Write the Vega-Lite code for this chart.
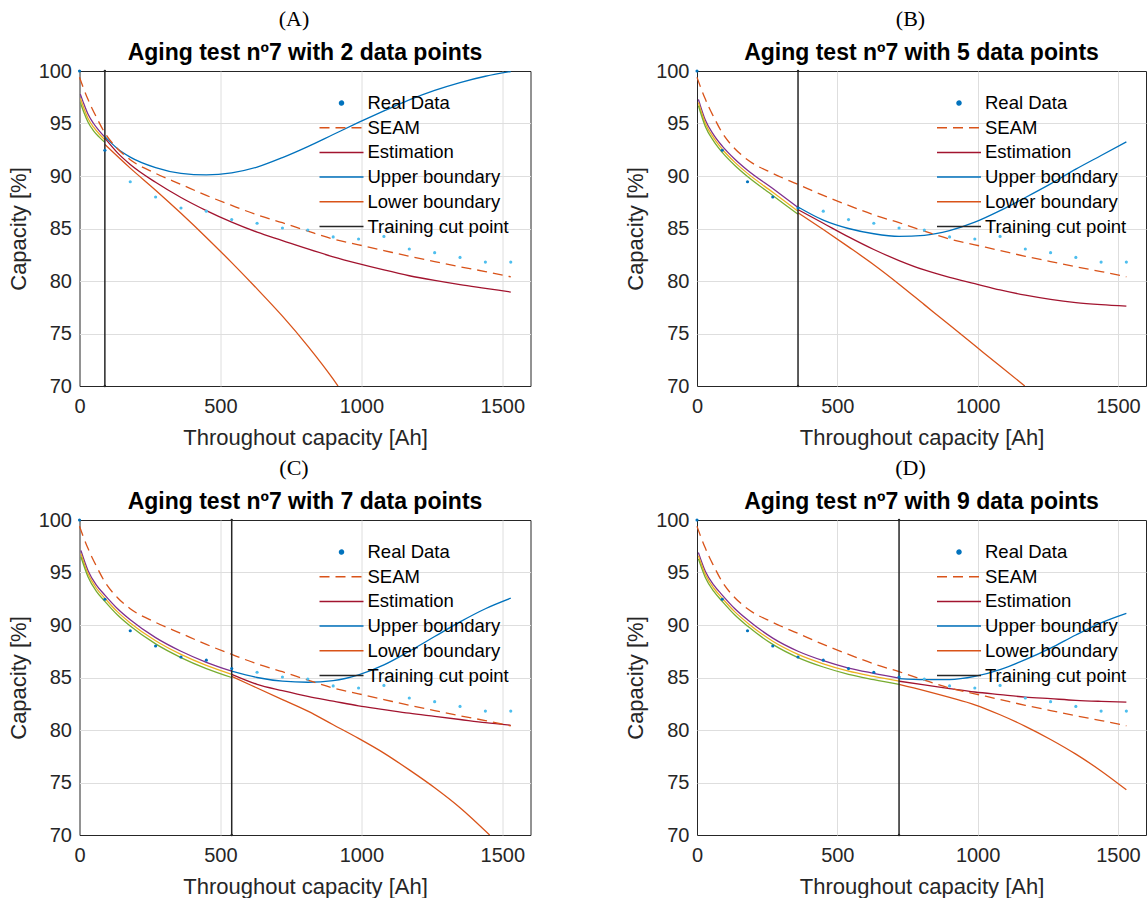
{
"$schema": "https://vega.github.io/schema/vega-lite/v6.json",
"padding": {"left": 6.5, "top": 7, "right": 0, "bottom": 0},
"datasets": {
"real": [
{"x":0,"y":100.0},{"x":90,"y":92.45},{"x":180,"y":89.45},{"x":270,"y":88.0},{"x":360,"y":86.95},{"x":450,"y":86.65},{"x":540,"y":85.85},{"x":630,"y":85.5},{"x":720,"y":85.05},{"x":810,"y":84.85},{"x":900,"y":84.2},{"x":990,"y":84.0},{"x":1080,"y":84.25},{"x":1170,"y":83.05},{"x":1260,"y":82.7},{"x":1350,"y":82.25},{"x":1440,"y":81.8},{"x":1530,"y":81.8}
],
"seam": [
{"x":0,"y":99.4},{"x":15,"y":98.3},{"x":30,"y":97.3},{"x":45,"y":96.4},{"x":60,"y":95.6},{"x":90,"y":94.1},{"x":135,"y":92.6},{"x":180,"y":91.55},{"x":270,"y":90.25},{"x":360,"y":89.2},{"x":450,"y":88.15},{"x":540,"y":87.2},{"x":630,"y":86.3},{"x":720,"y":85.55},{"x":810,"y":84.75},{"x":900,"y":84.0},{"x":990,"y":83.45},{"x":1080,"y":82.9},{"x":1170,"y":82.35},{"x":1260,"y":81.85},{"x":1350,"y":81.35},{"x":1440,"y":80.9},{"x":1530,"y":80.4}
],
"cuts": [
{"panel":"A","x":90,"y":70},{"panel":"A","x":90,"y":100},
{"panel":"B","x":360,"y":70},{"panel":"B","x":360,"y":100},
{"panel":"C","x":540,"y":70},{"panel":"C","x":540,"y":100},
{"panel":"D","x":720,"y":70},{"panel":"D","x":720,"y":100}
],
"curves": [
{"panel":"A","series":"Fit 1","x":3,"y":97.8},{"panel":"A","series":"Fit 1","x":15,"y":96.9},{"panel":"A","series":"Fit 1","x":30,"y":95.9},{"panel":"A","series":"Fit 1","x":50,"y":95.0},{"panel":"A","series":"Fit 1","x":70,"y":94.3},{"panel":"A","series":"Fit 1","x":90,"y":93.7},
{"panel":"A","series":"Fit 2","x":3,"y":97.4},{"panel":"A","series":"Fit 2","x":15,"y":96.5},{"panel":"A","series":"Fit 2","x":30,"y":95.5},{"panel":"A","series":"Fit 2","x":50,"y":94.65},{"panel":"A","series":"Fit 2","x":70,"y":94.0},{"panel":"A","series":"Fit 2","x":90,"y":93.45},
{"panel":"A","series":"Fit 3","x":3,"y":97.0},{"panel":"A","series":"Fit 3","x":15,"y":96.1},{"panel":"A","series":"Fit 3","x":30,"y":95.15},{"panel":"A","series":"Fit 3","x":50,"y":94.3},{"panel":"A","series":"Fit 3","x":70,"y":93.7},{"panel":"A","series":"Fit 3","x":90,"y":93.2},
{"panel":"A","series":"Estimation","x":90,"y":93.6},{"panel":"A","series":"Estimation","x":135,"y":92.2},{"panel":"A","series":"Estimation","x":180,"y":91.1},{"panel":"A","series":"Estimation","x":270,"y":89.4},{"panel":"A","series":"Estimation","x":360,"y":87.95},{"panel":"A","series":"Estimation","x":450,"y":86.7},{"panel":"A","series":"Estimation","x":540,"y":85.6},{"panel":"A","series":"Estimation","x":630,"y":84.65},{"panel":"A","series":"Estimation","x":720,"y":83.85},{"panel":"A","series":"Estimation","x":810,"y":83.05},{"panel":"A","series":"Estimation","x":900,"y":82.3},{"panel":"A","series":"Estimation","x":990,"y":81.65},{"panel":"A","series":"Estimation","x":1080,"y":81.05},{"panel":"A","series":"Estimation","x":1170,"y":80.5},{"panel":"A","series":"Estimation","x":1260,"y":80.05},{"panel":"A","series":"Estimation","x":1350,"y":79.65},{"panel":"A","series":"Estimation","x":1440,"y":79.3},{"panel":"A","series":"Estimation","x":1530,"y":78.95},
{"panel":"A","series":"Upper boundary","x":90,"y":93.75},{"panel":"A","series":"Upper boundary","x":135,"y":92.6},{"panel":"A","series":"Upper boundary","x":180,"y":91.8},{"panel":"A","series":"Upper boundary","x":270,"y":90.8},{"panel":"A","series":"Upper boundary","x":360,"y":90.25},{"panel":"A","series":"Upper boundary","x":450,"y":90.1},{"panel":"A","series":"Upper boundary","x":540,"y":90.3},{"panel":"A","series":"Upper boundary","x":630,"y":90.85},{"panel":"A","series":"Upper boundary","x":720,"y":91.75},{"panel":"A","series":"Upper boundary","x":810,"y":92.8},{"panel":"A","series":"Upper boundary","x":900,"y":93.95},{"panel":"A","series":"Upper boundary","x":990,"y":95.1},{"panel":"A","series":"Upper boundary","x":1080,"y":96.2},{"panel":"A","series":"Upper boundary","x":1170,"y":97.25},{"panel":"A","series":"Upper boundary","x":1260,"y":98.15},{"panel":"A","series":"Upper boundary","x":1350,"y":98.9},{"panel":"A","series":"Upper boundary","x":1440,"y":99.5},{"panel":"A","series":"Upper boundary","x":1530,"y":99.95},
{"panel":"A","series":"Lower boundary","x":90,"y":93.0},{"panel":"A","series":"Lower boundary","x":180,"y":90.75},{"panel":"A","series":"Lower boundary","x":270,"y":88.65},{"panel":"A","series":"Lower boundary","x":360,"y":86.45},{"panel":"A","series":"Lower boundary","x":450,"y":84.15},{"panel":"A","series":"Lower boundary","x":540,"y":81.75},{"panel":"A","series":"Lower boundary","x":630,"y":79.25},{"panel":"A","series":"Lower boundary","x":720,"y":76.65},{"panel":"A","series":"Lower boundary","x":810,"y":73.8},{"panel":"A","series":"Lower boundary","x":900,"y":70.65},{"panel":"A","series":"Lower boundary","x":917,"y":70.0},
{"panel":"B","series":"Fit 1","x":5,"y":97.3},{"panel":"B","series":"Fit 1","x":30,"y":95.3},{"panel":"B","series":"Fit 1","x":60,"y":93.9},{"panel":"B","series":"Fit 1","x":90,"y":92.85},{"panel":"B","series":"Fit 1","x":135,"y":91.6},{"panel":"B","series":"Fit 1","x":180,"y":90.55},{"panel":"B","series":"Fit 1","x":270,"y":88.8},{"panel":"B","series":"Fit 1","x":360,"y":87.0},
{"panel":"B","series":"Fit 2","x":5,"y":97.0},{"panel":"B","series":"Fit 2","x":30,"y":95.0},{"panel":"B","series":"Fit 2","x":60,"y":93.6},{"panel":"B","series":"Fit 2","x":90,"y":92.55},{"panel":"B","series":"Fit 2","x":135,"y":91.3},{"panel":"B","series":"Fit 2","x":180,"y":90.25},{"panel":"B","series":"Fit 2","x":270,"y":88.45},{"panel":"B","series":"Fit 2","x":360,"y":86.65},
{"panel":"B","series":"Fit 3","x":5,"y":96.7},{"panel":"B","series":"Fit 3","x":30,"y":94.7},{"panel":"B","series":"Fit 3","x":60,"y":93.3},{"panel":"B","series":"Fit 3","x":90,"y":92.25},{"panel":"B","series":"Fit 3","x":135,"y":91.0},{"panel":"B","series":"Fit 3","x":180,"y":89.95},{"panel":"B","series":"Fit 3","x":270,"y":88.15},{"panel":"B","series":"Fit 3","x":360,"y":86.35},
{"panel":"B","series":"Estimation","x":360,"y":86.8},{"panel":"B","series":"Estimation","x":450,"y":85.5},{"panel":"B","series":"Estimation","x":540,"y":84.2},{"panel":"B","series":"Estimation","x":630,"y":83.0},{"panel":"B","series":"Estimation","x":720,"y":81.95},{"panel":"B","series":"Estimation","x":810,"y":81.05},{"panel":"B","series":"Estimation","x":900,"y":80.35},{"panel":"B","series":"Estimation","x":990,"y":79.75},{"panel":"B","series":"Estimation","x":1080,"y":79.15},{"panel":"B","series":"Estimation","x":1170,"y":78.65},{"panel":"B","series":"Estimation","x":1260,"y":78.25},{"panel":"B","series":"Estimation","x":1350,"y":77.95},{"panel":"B","series":"Estimation","x":1440,"y":77.75},{"panel":"B","series":"Estimation","x":1530,"y":77.6},
{"panel":"B","series":"Upper boundary","x":360,"y":87.05},{"panel":"B","series":"Upper boundary","x":450,"y":85.8},{"panel":"B","series":"Upper boundary","x":540,"y":85.0},{"panel":"B","series":"Upper boundary","x":630,"y":84.5},{"panel":"B","series":"Upper boundary","x":720,"y":84.25},{"panel":"B","series":"Upper boundary","x":810,"y":84.35},{"panel":"B","series":"Upper boundary","x":900,"y":84.8},{"panel":"B","series":"Upper boundary","x":990,"y":85.6},{"panel":"B","series":"Upper boundary","x":1080,"y":86.7},{"panel":"B","series":"Upper boundary","x":1170,"y":87.95},{"panel":"B","series":"Upper boundary","x":1260,"y":89.25},{"panel":"B","series":"Upper boundary","x":1350,"y":90.65},{"panel":"B","series":"Upper boundary","x":1440,"y":91.95},{"panel":"B","series":"Upper boundary","x":1530,"y":93.25},
{"panel":"B","series":"Lower boundary","x":360,"y":86.5},{"panel":"B","series":"Lower boundary","x":450,"y":84.9},{"panel":"B","series":"Lower boundary","x":540,"y":83.25},{"panel":"B","series":"Lower boundary","x":630,"y":81.55},{"panel":"B","series":"Lower boundary","x":720,"y":79.7},{"panel":"B","series":"Lower boundary","x":810,"y":77.75},{"panel":"B","series":"Lower boundary","x":900,"y":75.8},{"panel":"B","series":"Lower boundary","x":990,"y":73.85},{"panel":"B","series":"Lower boundary","x":1080,"y":71.9},{"panel":"B","series":"Lower boundary","x":1168,"y":70.0},
{"panel":"C","series":"Fit 1","x":5,"y":97.1},{"panel":"C","series":"Fit 1","x":30,"y":95.2},{"panel":"C","series":"Fit 1","x":60,"y":93.8},{"panel":"C","series":"Fit 1","x":90,"y":92.85},{"panel":"C","series":"Fit 1","x":135,"y":91.55},{"panel":"C","series":"Fit 1","x":180,"y":90.5},{"panel":"C","series":"Fit 1","x":270,"y":88.8},{"panel":"C","series":"Fit 1","x":360,"y":87.5},{"panel":"C","series":"Fit 1","x":450,"y":86.45},{"panel":"C","series":"Fit 1","x":540,"y":85.6},
{"panel":"C","series":"Fit 2","x":5,"y":96.8},{"panel":"C","series":"Fit 2","x":30,"y":94.9},{"panel":"C","series":"Fit 2","x":60,"y":93.5},{"panel":"C","series":"Fit 2","x":90,"y":92.55},{"panel":"C","series":"Fit 2","x":135,"y":91.25},{"panel":"C","series":"Fit 2","x":180,"y":90.2},{"panel":"C","series":"Fit 2","x":270,"y":88.5},{"panel":"C","series":"Fit 2","x":360,"y":87.2},{"panel":"C","series":"Fit 2","x":450,"y":86.15},{"panel":"C","series":"Fit 2","x":540,"y":85.3},
{"panel":"C","series":"Fit 3","x":5,"y":96.5},{"panel":"C","series":"Fit 3","x":30,"y":94.6},{"panel":"C","series":"Fit 3","x":60,"y":93.2},{"panel":"C","series":"Fit 3","x":90,"y":92.25},{"panel":"C","series":"Fit 3","x":135,"y":90.95},{"panel":"C","series":"Fit 3","x":180,"y":89.9},{"panel":"C","series":"Fit 3","x":270,"y":88.2},{"panel":"C","series":"Fit 3","x":360,"y":86.9},{"panel":"C","series":"Fit 3","x":450,"y":85.85},{"panel":"C","series":"Fit 3","x":540,"y":85.0},
{"panel":"C","series":"Estimation","x":540,"y":85.3},{"panel":"C","series":"Estimation","x":630,"y":84.35},{"panel":"C","series":"Estimation","x":720,"y":83.75},{"panel":"C","series":"Estimation","x":810,"y":83.2},{"panel":"C","series":"Estimation","x":900,"y":82.75},{"panel":"C","series":"Estimation","x":990,"y":82.3},{"panel":"C","series":"Estimation","x":1080,"y":81.95},{"panel":"C","series":"Estimation","x":1170,"y":81.6},{"panel":"C","series":"Estimation","x":1260,"y":81.3},{"panel":"C","series":"Estimation","x":1350,"y":81.0},{"panel":"C","series":"Estimation","x":1440,"y":80.7},{"panel":"C","series":"Estimation","x":1530,"y":80.45},
{"panel":"C","series":"Upper boundary","x":540,"y":85.6},{"panel":"C","series":"Upper boundary","x":630,"y":85.0},{"panel":"C","series":"Upper boundary","x":720,"y":84.65},{"panel":"C","series":"Upper boundary","x":810,"y":84.55},{"panel":"C","series":"Upper boundary","x":900,"y":84.7},{"panel":"C","series":"Upper boundary","x":990,"y":85.25},{"panel":"C","series":"Upper boundary","x":1080,"y":86.2},{"panel":"C","series":"Upper boundary","x":1170,"y":87.5},{"panel":"C","series":"Upper boundary","x":1260,"y":88.9},{"panel":"C","series":"Upper boundary","x":1350,"y":90.3},{"panel":"C","series":"Upper boundary","x":1440,"y":91.55},{"panel":"C","series":"Upper boundary","x":1530,"y":92.55},
{"panel":"C","series":"Lower boundary","x":540,"y":85.1},{"panel":"C","series":"Lower boundary","x":630,"y":84.0},{"panel":"C","series":"Lower boundary","x":720,"y":82.9},{"panel":"C","series":"Lower boundary","x":810,"y":81.8},{"panel":"C","series":"Lower boundary","x":900,"y":80.5},{"panel":"C","series":"Lower boundary","x":990,"y":79.2},{"panel":"C","series":"Lower boundary","x":1080,"y":77.8},{"panel":"C","series":"Lower boundary","x":1170,"y":76.2},{"panel":"C","series":"Lower boundary","x":1260,"y":74.5},{"panel":"C","series":"Lower boundary","x":1350,"y":72.6},{"panel":"C","series":"Lower boundary","x":1455,"y":70.0},
{"panel":"D","series":"Fit 1","x":5,"y":96.9},{"panel":"D","series":"Fit 1","x":30,"y":95.1},{"panel":"D","series":"Fit 1","x":60,"y":93.8},{"panel":"D","series":"Fit 1","x":90,"y":92.85},{"panel":"D","series":"Fit 1","x":135,"y":91.55},{"panel":"D","series":"Fit 1","x":180,"y":90.5},{"panel":"D","series":"Fit 1","x":270,"y":88.75},{"panel":"D","series":"Fit 1","x":360,"y":87.5},{"panel":"D","series":"Fit 1","x":450,"y":86.6},{"panel":"D","series":"Fit 1","x":540,"y":85.9},{"panel":"D","series":"Fit 1","x":630,"y":85.4},{"panel":"D","series":"Fit 1","x":720,"y":84.95},
{"panel":"D","series":"Fit 2","x":5,"y":96.6},{"panel":"D","series":"Fit 2","x":30,"y":94.8},{"panel":"D","series":"Fit 2","x":60,"y":93.5},{"panel":"D","series":"Fit 2","x":90,"y":92.55},{"panel":"D","series":"Fit 2","x":135,"y":91.25},{"panel":"D","series":"Fit 2","x":180,"y":90.2},{"panel":"D","series":"Fit 2","x":270,"y":88.45},{"panel":"D","series":"Fit 2","x":360,"y":87.2},{"panel":"D","series":"Fit 2","x":450,"y":86.3},{"panel":"D","series":"Fit 2","x":540,"y":85.6},{"panel":"D","series":"Fit 2","x":630,"y":85.1},{"panel":"D","series":"Fit 2","x":720,"y":84.65},
{"panel":"D","series":"Fit 3","x":5,"y":96.3},{"panel":"D","series":"Fit 3","x":30,"y":94.5},{"panel":"D","series":"Fit 3","x":60,"y":93.2},{"panel":"D","series":"Fit 3","x":90,"y":92.25},{"panel":"D","series":"Fit 3","x":135,"y":90.95},{"panel":"D","series":"Fit 3","x":180,"y":89.9},{"panel":"D","series":"Fit 3","x":270,"y":88.15},{"panel":"D","series":"Fit 3","x":360,"y":86.9},{"panel":"D","series":"Fit 3","x":450,"y":86.0},{"panel":"D","series":"Fit 3","x":540,"y":85.3},{"panel":"D","series":"Fit 3","x":630,"y":84.8},{"panel":"D","series":"Fit 3","x":720,"y":84.35},
{"panel":"D","series":"Estimation","x":720,"y":84.65},{"panel":"D","series":"Estimation","x":810,"y":84.3},{"panel":"D","series":"Estimation","x":900,"y":83.95},{"panel":"D","series":"Estimation","x":990,"y":83.62},{"panel":"D","series":"Estimation","x":1080,"y":83.37},{"panel":"D","series":"Estimation","x":1170,"y":83.13},{"panel":"D","series":"Estimation","x":1260,"y":82.98},{"panel":"D","series":"Estimation","x":1350,"y":82.83},{"panel":"D","series":"Estimation","x":1440,"y":82.73},{"panel":"D","series":"Estimation","x":1530,"y":82.65},
{"panel":"D","series":"Upper boundary","x":720,"y":84.9},{"panel":"D","series":"Upper boundary","x":810,"y":84.8},{"panel":"D","series":"Upper boundary","x":900,"y":84.8},{"panel":"D","series":"Upper boundary","x":990,"y":85.1},{"panel":"D","series":"Upper boundary","x":1080,"y":85.75},{"panel":"D","series":"Upper boundary","x":1170,"y":86.7},{"panel":"D","series":"Upper boundary","x":1260,"y":87.8},{"panel":"D","series":"Upper boundary","x":1350,"y":89.05},{"panel":"D","series":"Upper boundary","x":1440,"y":90.2},{"panel":"D","series":"Upper boundary","x":1530,"y":91.1},
{"panel":"D","series":"Lower boundary","x":720,"y":84.35},{"panel":"D","series":"Lower boundary","x":810,"y":83.75},{"panel":"D","series":"Lower boundary","x":900,"y":83.1},{"panel":"D","series":"Lower boundary","x":990,"y":82.4},{"panel":"D","series":"Lower boundary","x":1080,"y":81.45},{"panel":"D","series":"Lower boundary","x":1170,"y":80.35},{"panel":"D","series":"Lower boundary","x":1260,"y":79.1},{"panel":"D","series":"Lower boundary","x":1350,"y":77.7},{"panel":"D","series":"Lower boundary","x":1440,"y":76.1},{"panel":"D","series":"Lower boundary","x":1530,"y":74.3}
]
},
"columns": 2,
"spacing": {"row": 7, "column": 92.5},
"resolve": {"scale": {"color": "independent", "x": "independent", "y": "independent"}, "legend": {"color": "independent"}},
"concat": [
{
"width": 451, "height": 315,
"title": {"text": "(A)\u00a0\u00a0\u00a0\u00a0\u200b", "subtitle": "Aging test nº7 with 2 data points"},
"encoding": {
"x": {"field": "x", "type": "quantitative", "scale": {"domain": [0, 1600], "nice": false}, "axis": {"values": [0, 500, 1000, 1500], "format": "d", "title": "Throughout capacity [Ah]", "gridColor": {"condition": {"test": "datum.value === 0", "value": "transparent"}, "value": "#dedede"}}},
"y": {"field": "y", "type": "quantitative", "scale": {"domain": [70, 100], "nice": false}, "axis": {"values": [70, 75, 80, 85, 90, 95, 100], "title": "Capacity [%]", "gridColor": {"condition": {"test": "datum.value === 70 || datum.value === 100", "value": "transparent"}, "value": "#dedede"}}}
},
"layer": [
{"data": {"name": "curves"}, "transform": [{"filter": "datum.panel === 'A'"}],
"mark": {"type": "line", "strokeWidth": 1.3, "interpolate": "monotone", "clip": true},
"encoding": {"color": {"field": "series", "type": "nominal",
"scale": {"domain": ["Real Data", "SEAM", "Estimation", "Upper boundary", "Lower boundary", "Training cut point", "Test Data", "Fit 1", "Fit 2", "Fit 3"], "range": ["#0072BD", "#D95319", "#A2142F", "#0072BD", "#D95319", "#262626", "#4DBEEE", "#7E2F8E", "#EDB120", "#77AC30"]},
"legend": {"values": ["Real Data", "SEAM", "Estimation", "Upper boundary", "Lower boundary", "Training cut point"],
"encode": {"symbols": {"update": {
"shape": {"signal": "datum.value === 'Real Data' ? 'M-0.2,0A0.2,0.2,0,1,1,0.2,0A0.2,0.2,0,1,1,-0.2,0Z' : 'M-2.2,0L2.2,0'"},
"size": {"value": 400},
"strokeDash": {"signal": "datum.value === 'SEAM' ? [10,6] : [1,0]"},
"fill": {"signal": "datum.value === 'Real Data' ? '#0072BD' : 'transparent'"},
"stroke": {"signal": "datum.value === 'Real Data' ? 'transparent' : datum.value === 'SEAM' ? '#D95319' : datum.value === 'Estimation' ? '#A2142F' : datum.value === 'Upper boundary' ? '#0072BD' : datum.value === 'Lower boundary' ? '#D95319' : '#262626'"},
"strokeWidth": {"value": 1.5},
"opacity": {"value": 1}
}}}}}}},
{"data": {"name": "seam"}, "mark": {"type": "line", "strokeWidth": 1.3, "strokeDash": [10, 6], "interpolate": "monotone"}, "encoding": {"color": {"datum": "SEAM"}}},
{"data": {"name": "cuts"}, "transform": [{"filter": "datum.panel === 'A'"}], "mark": {"type": "line", "strokeWidth": 1.5, "point": {"filled": true, "size": 6}}, "encoding": {"color": {"datum": "Training cut point"}}},
{"data": {"name": "real"}, "transform": [{"filter": "datum.x > 90"}], "mark": {"type": "point", "filled": true, "size": 10, "opacity": 1}, "encoding": {"color": {"datum": "Test Data"}}},
{"data": {"name": "real"}, "transform": [{"filter": "datum.x <= 90"}], "mark": {"type": "point", "filled": true, "size": 10, "opacity": 1}, "encoding": {"color": {"datum": "Real Data"}}}
]
},
{
"width": 449, "height": 315,
"title": {"text": "(B)\u00a0\u00a0\u00a0\u00a0\u200b", "subtitle": "Aging test nº7 with 5 data points"},
"encoding": {
"x": {"field": "x", "type": "quantitative", "scale": {"domain": [0, 1600], "nice": false}, "axis": {"values": [0, 500, 1000, 1500], "format": "d", "title": "Throughout capacity [Ah]", "gridColor": {"condition": {"test": "datum.value === 0", "value": "transparent"}, "value": "#dedede"}}},
"y": {"field": "y", "type": "quantitative", "scale": {"domain": [70, 100], "nice": false}, "axis": {"values": [70, 75, 80, 85, 90, 95, 100], "title": "Capacity [%]", "gridColor": {"condition": {"test": "datum.value === 70 || datum.value === 100", "value": "transparent"}, "value": "#dedede"}}}
},
"layer": [
{"data": {"name": "curves"}, "transform": [{"filter": "datum.panel === 'B'"}],
"mark": {"type": "line", "strokeWidth": 1.3, "interpolate": "monotone", "clip": true},
"encoding": {"color": {"field": "series", "type": "nominal",
"scale": {"domain": ["Real Data", "SEAM", "Estimation", "Upper boundary", "Lower boundary", "Training cut point", "Test Data", "Fit 1", "Fit 2", "Fit 3"], "range": ["#0072BD", "#D95319", "#A2142F", "#0072BD", "#D95319", "#262626", "#4DBEEE", "#7E2F8E", "#EDB120", "#77AC30"]},
"legend": {"values": ["Real Data", "SEAM", "Estimation", "Upper boundary", "Lower boundary", "Training cut point"],
"encode": {"symbols": {"update": {
"shape": {"signal": "datum.value === 'Real Data' ? 'M-0.2,0A0.2,0.2,0,1,1,0.2,0A0.2,0.2,0,1,1,-0.2,0Z' : 'M-2.2,0L2.2,0'"},
"size": {"value": 400},
"strokeDash": {"signal": "datum.value === 'SEAM' ? [10,6] : [1,0]"},
"fill": {"signal": "datum.value === 'Real Data' ? '#0072BD' : 'transparent'"},
"stroke": {"signal": "datum.value === 'Real Data' ? 'transparent' : datum.value === 'SEAM' ? '#D95319' : datum.value === 'Estimation' ? '#A2142F' : datum.value === 'Upper boundary' ? '#0072BD' : datum.value === 'Lower boundary' ? '#D95319' : '#262626'"},
"strokeWidth": {"value": 1.5},
"opacity": {"value": 1}
}}}}}}},
{"data": {"name": "seam"}, "mark": {"type": "line", "strokeWidth": 1.3, "strokeDash": [10, 6], "interpolate": "monotone"}, "encoding": {"color": {"datum": "SEAM"}}},
{"data": {"name": "cuts"}, "transform": [{"filter": "datum.panel === 'B'"}], "mark": {"type": "line", "strokeWidth": 1.5, "point": {"filled": true, "size": 6}}, "encoding": {"color": {"datum": "Training cut point"}}},
{"data": {"name": "real"}, "transform": [{"filter": "datum.x > 360"}], "mark": {"type": "point", "filled": true, "size": 10, "opacity": 1}, "encoding": {"color": {"datum": "Test Data"}}},
{"data": {"name": "real"}, "transform": [{"filter": "datum.x <= 360"}], "mark": {"type": "point", "filled": true, "size": 10, "opacity": 1}, "encoding": {"color": {"datum": "Real Data"}}}
]
},
{
"width": 451, "height": 315,
"title": {"text": "(C)\u00a0\u00a0\u00a0\u00a0\u200b", "subtitle": "Aging test nº7 with 7 data points"},
"encoding": {
"x": {"field": "x", "type": "quantitative", "scale": {"domain": [0, 1600], "nice": false}, "axis": {"values": [0, 500, 1000, 1500], "format": "d", "title": "Throughout capacity [Ah]", "gridColor": {"condition": {"test": "datum.value === 0", "value": "transparent"}, "value": "#dedede"}}},
"y": {"field": "y", "type": "quantitative", "scale": {"domain": [70, 100], "nice": false}, "axis": {"values": [70, 75, 80, 85, 90, 95, 100], "title": "Capacity [%]", "gridColor": {"condition": {"test": "datum.value === 70 || datum.value === 100", "value": "transparent"}, "value": "#dedede"}}}
},
"layer": [
{"data": {"name": "curves"}, "transform": [{"filter": "datum.panel === 'C'"}],
"mark": {"type": "line", "strokeWidth": 1.3, "interpolate": "monotone", "clip": true},
"encoding": {"color": {"field": "series", "type": "nominal",
"scale": {"domain": ["Real Data", "SEAM", "Estimation", "Upper boundary", "Lower boundary", "Training cut point", "Test Data", "Fit 1", "Fit 2", "Fit 3"], "range": ["#0072BD", "#D95319", "#A2142F", "#0072BD", "#D95319", "#262626", "#4DBEEE", "#7E2F8E", "#EDB120", "#77AC30"]},
"legend": {"values": ["Real Data", "SEAM", "Estimation", "Upper boundary", "Lower boundary", "Training cut point"],
"encode": {"symbols": {"update": {
"shape": {"signal": "datum.value === 'Real Data' ? 'M-0.2,0A0.2,0.2,0,1,1,0.2,0A0.2,0.2,0,1,1,-0.2,0Z' : 'M-2.2,0L2.2,0'"},
"size": {"value": 400},
"strokeDash": {"signal": "datum.value === 'SEAM' ? [10,6] : [1,0]"},
"fill": {"signal": "datum.value === 'Real Data' ? '#0072BD' : 'transparent'"},
"stroke": {"signal": "datum.value === 'Real Data' ? 'transparent' : datum.value === 'SEAM' ? '#D95319' : datum.value === 'Estimation' ? '#A2142F' : datum.value === 'Upper boundary' ? '#0072BD' : datum.value === 'Lower boundary' ? '#D95319' : '#262626'"},
"strokeWidth": {"value": 1.5},
"opacity": {"value": 1}
}}}}}}},
{"data": {"name": "seam"}, "mark": {"type": "line", "strokeWidth": 1.3, "strokeDash": [10, 6], "interpolate": "monotone"}, "encoding": {"color": {"datum": "SEAM"}}},
{"data": {"name": "cuts"}, "transform": [{"filter": "datum.panel === 'C'"}], "mark": {"type": "line", "strokeWidth": 1.5, "point": {"filled": true, "size": 6}}, "encoding": {"color": {"datum": "Training cut point"}}},
{"data": {"name": "real"}, "transform": [{"filter": "datum.x > 540"}], "mark": {"type": "point", "filled": true, "size": 10, "opacity": 1}, "encoding": {"color": {"datum": "Test Data"}}},
{"data": {"name": "real"}, "transform": [{"filter": "datum.x <= 540"}], "mark": {"type": "point", "filled": true, "size": 10, "opacity": 1}, "encoding": {"color": {"datum": "Real Data"}}}
]
},
{
"width": 449, "height": 315,
"title": {"text": "(D)\u00a0\u00a0\u00a0\u00a0\u200b", "subtitle": "Aging test nº7 with 9 data points"},
"encoding": {
"x": {"field": "x", "type": "quantitative", "scale": {"domain": [0, 1600], "nice": false}, "axis": {"values": [0, 500, 1000, 1500], "format": "d", "title": "Throughout capacity [Ah]", "gridColor": {"condition": {"test": "datum.value === 0", "value": "transparent"}, "value": "#dedede"}}},
"y": {"field": "y", "type": "quantitative", "scale": {"domain": [70, 100], "nice": false}, "axis": {"values": [70, 75, 80, 85, 90, 95, 100], "title": "Capacity [%]", "gridColor": {"condition": {"test": "datum.value === 70 || datum.value === 100", "value": "transparent"}, "value": "#dedede"}}}
},
"layer": [
{"data": {"name": "curves"}, "transform": [{"filter": "datum.panel === 'D'"}],
"mark": {"type": "line", "strokeWidth": 1.3, "interpolate": "monotone", "clip": true},
"encoding": {"color": {"field": "series", "type": "nominal",
"scale": {"domain": ["Real Data", "SEAM", "Estimation", "Upper boundary", "Lower boundary", "Training cut point", "Test Data", "Fit 1", "Fit 2", "Fit 3"], "range": ["#0072BD", "#D95319", "#A2142F", "#0072BD", "#D95319", "#262626", "#4DBEEE", "#7E2F8E", "#EDB120", "#77AC30"]},
"legend": {"values": ["Real Data", "SEAM", "Estimation", "Upper boundary", "Lower boundary", "Training cut point"],
"encode": {"symbols": {"update": {
"shape": {"signal": "datum.value === 'Real Data' ? 'M-0.2,0A0.2,0.2,0,1,1,0.2,0A0.2,0.2,0,1,1,-0.2,0Z' : 'M-2.2,0L2.2,0'"},
"size": {"value": 400},
"strokeDash": {"signal": "datum.value === 'SEAM' ? [10,6] : [1,0]"},
"fill": {"signal": "datum.value === 'Real Data' ? '#0072BD' : 'transparent'"},
"stroke": {"signal": "datum.value === 'Real Data' ? 'transparent' : datum.value === 'SEAM' ? '#D95319' : datum.value === 'Estimation' ? '#A2142F' : datum.value === 'Upper boundary' ? '#0072BD' : datum.value === 'Lower boundary' ? '#D95319' : '#262626'"},
"strokeWidth": {"value": 1.5},
"opacity": {"value": 1}
}}}}}}},
{"data": {"name": "seam"}, "mark": {"type": "line", "strokeWidth": 1.3, "strokeDash": [10, 6], "interpolate": "monotone"}, "encoding": {"color": {"datum": "SEAM"}}},
{"data": {"name": "cuts"}, "transform": [{"filter": "datum.panel === 'D'"}], "mark": {"type": "line", "strokeWidth": 1.5, "point": {"filled": true, "size": 6}}, "encoding": {"color": {"datum": "Training cut point"}}},
{"data": {"name": "real"}, "transform": [{"filter": "datum.x > 720"}], "mark": {"type": "point", "filled": true, "size": 10, "opacity": 1}, "encoding": {"color": {"datum": "Test Data"}}},
{"data": {"name": "real"}, "transform": [{"filter": "datum.x <= 720"}], "mark": {"type": "point", "filled": true, "size": 10, "opacity": 1}, "encoding": {"color": {"datum": "Real Data"}}}
]
}
],
"config": {
"view": {"stroke": "#262626", "strokeWidth": 1},
"font": "Liberation Sans",
"axis": {"labelFont": "Liberation Sans", "labelFontSize": 20, "labelColor": "#262626", "labelFlush": false, "titleFont": "Liberation Sans", "titleFontSize": 22, "titleFontWeight": "normal", "titleColor": "#262626", "gridWidth": 1, "domain": false, "ticks": false},
"axisX": {"labelPadding": 10, "titlePadding": 11},
"axisY": {"labelPadding": 8, "titlePadding": 8},
"title": {"font": "Liberation Serif", "fontSize": 22, "fontWeight": "normal", "color": "#000000", "subtitleFont": "Liberation Sans", "subtitleFontSize": 23, "subtitleFontWeight": "bold", "subtitleColor": "#000000", "subtitlePadding": 11, "offset": -5, "anchor": "middle", "frame": "group"},
"legend": {"orient": "none", "legendX": 240, "legendY": 21, "padding": 0, "title": null, "symbolType": "stroke", "symbolSize": 400, "symbolOffset": 11, "symbolStrokeWidth": 1.5, "labelFont": "Liberation Sans", "labelFontSize": 18.5, "labelColor": "#000000", "labelOffset": 15, "labelLimit": 300, "rowPadding": 3.7}
}
}
